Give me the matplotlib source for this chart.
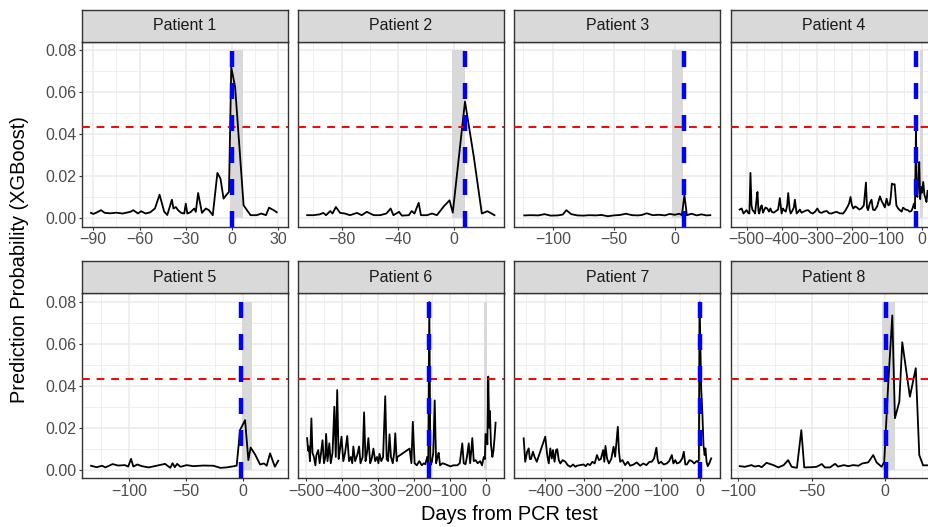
import numpy as np
import matplotlib
matplotlib.use("Agg")
import matplotlib.pyplot as plt

plt.rcParams["font.family"] = ["Liberation Sans", "DejaVu Sans"]

# daily XGBoost prediction probability per patient, days relative to PCR test
p1_days = [-91.5, -90, -88, -85, -82.5, -79, -75, -71, -66, -64, -61, -59, -56, -53,
           -50, -47, -44, -42, -39, -38, -36.5, -35, -33, -31, -30, -29, -27, -24.5,
           -23.5, -22, -19.5, -17, -15, -12.5, -9.5, -7.5, -5.5, -3, -2, -0.5, 2, 7.5,
           12, 16, 19, 22, 24, 27, 29]
p1_prob = [.0024, .0019, .0025, .0037, .0024, .0022, .0025, .0021, .0029, .0037, .0021,
           .0032, .0021, .0027, .0045, .0111, .0030, .0014, .0087, .0045, .0052, .0037,
           .0024, .0021, .0068, .0021, .0027, .0045, .0029, .0119, .0024, .0045, .0037,
           .0013, .0215, .0188, .0092, .0116, .0124, .0720, .0625, .0060, .0013, .0013,
           .0021, .0013, .0049, .0037, .0027]

p2_days = [-104.5, -100, -95.5, -93, -91, -88, -86.4, -84, -81, -77.6, -74, -69, -65.6,
           -62, -57, -52.5, -48, -45, -43, -39, -37, -32, -30, -28, -25, -23.4, -19,
           -15.5, -12, -7, -3, -0.7, 8, 14.3, 20, 24, 29]
p2_prob = [.0013, .0013, .0017, .0024, .0013, .0033, .0021, .0052, .0024, .0021, .0013,
           .0024, .0013, .0029, .0013, .0013, .0021, .0045, .0013, .0029, .0011, .0013,
           .0033, .0021, .0072, .0013, .0013, .0021, .0013, .0056, .0084, .0025, .0556,
           .0291, .0021, .0032, .0013]

p3_days = [-123.6, -118, -112, -107, -102, -96, -92, -89, -85, -80, -75, -70, -65, -60,
           -55, -50, -45, -40, -35, -30, -27, -23, -18, -13, -8, -4, 0, 4, 6, 8, 10, 14,
           18, 22, 26, 29.3]
p3_prob = [.0012, .0013, .0012, .0018, .0011, .0012, .0016, .0037, .0018, .0012, .0011,
           .0013, .0012, .0014, .0008, .0012, .0014, .0020, .0013, .0012, .0014, .0022,
           .0013, .0015, .0012, .0019, .0015, .0020, .0013, .0110, .0013, .0020, .0012,
           .0017, .0012, .0013]

p4_days = [-520, -514, -509, -504, -500, -496, -492, -489, -486, -483, -479, -476, -472,
           -469, -466, -464, -460, -457, -453, -450, -446, -441, -436, -432, -428, -422,
           -416, -410, -405, -400, -396, -393, -388, -384, -381, -377, -374, -369, -365,
           -362, -357, -352, -348, -343, -338, -331, -324, -317, -311, -304, -298, -292,
           -286, -279, -271, -264, -257, -250, -243, -234, -224, -218, -212, -207, -203,
           -199, -195, -190, -184, -178, -172, -165, -159, -156, -153, -148, -143, -139,
           -134, -127, -119, -114, -110, -105, -100, -95, -91, -88, -85, -81, -77, -72,
           -67, -62, -57, -53, -46, -39, -34, -29, -25, -22, -19, -16, -14, -12, -9, -6.7,
           -4, -2, 1, 4.7, 8, 11, 14, 17, 21, 28, 35]
p4_prob = [.0040, .0045, .0021, .0030, .0037, .0025, .0021, .0215, .0060, .0037, .0030,
           .0021, .0080, .0124, .0030, .0021, .0050, .0060, .0025, .0037, .0050, .0045,
           .0030, .0045, .0029, .0025, .0033, .0040, .0095, .0021, .0045, .0037, .0030,
           .0060, .0119, .0040, .0021, .0035, .0050, .0087, .0021, .0030, .0040, .0025,
           .0029, .0035, .0037, .0025, .0021, .0030, .0045, .0028, .0024, .0030, .0033,
           .0022, .0021, .0026, .0029, .0022, .0021, .0035, .0052, .0070, .0100, .0060,
           .0045, .0055, .0049, .0040, .0045, .0060, .0169, .0050, .0037, .0070, .0087,
           .0040, .0037, .0055, .0103, .0080, .0068, .0050, .0092, .0060, .0065, .0100,
           .0164, .0160, .0161, .0060, .0045, .0037, .0030, .0049, .0040, .0037, .0030,
           .0033, .0050, .0068, .0045, .0426, .0120, .0100, .0180, .0267, .0090, .0148,
           .0120, .0172, .0110, .0095, .0076, .0130, .0100, .0090, .0060]

p5_days = [-133.7, -128.7, -124, -121, -114.7, -110, -104, -101, -98.5, -96.5, -93, -89,
           -83, -76, -68.6, -64, -62, -60, -58, -55, -49.6, -43.7, -35, -26, -20, -14.4,
           -5.6, -2.6, 1.8, 4.7, 6.7, 10.6, 15, 18.5, 20.8, 23.8, 28, 31]
p5_prob = [.0018, .0011, .0018, .0010, .0026, .0019, .0021, .0014, .0051, .0014, .0024,
           .0016, .0010, .0018, .0027, .0008, .0030, .0011, .0027, .0013, .0021, .0016,
           .0019, .0018, .0008, .0010, .0018, .0189, .0236, .0045, .0105, .0072, .0024,
           .0029, .0018, .0077, .0013, .0042]

p6_days = [-498, -495, -493, -490, -486, -483, -479, -475, -472, -467, -463, -459, -455,
           -451, -447, -445, -441, -436, -432, -427, -422, -418, -414, -410, -406, -402,
           -397, -392, -386, -381, -376, -372, -369, -364, -358, -353, -349, -343, -339,
           -335, -331, -327, -322, -318, -313, -308, -303, -299, -296, -291, -286, -280,
           -276, -272, -268, -264, -259, -255, -252, -248, -246, -212, -207, -203, -198,
           -192, -185, -178, -172, -168, -163, -160, -157, -154, -150, -146, -142, -138,
           -134, -131, -127, -120, -112, -98, -90, -79, -72, -65, -61, -56, -52, -47, -43,
           -37, -33, -28, -22, -15, -10, -5, -2, 0, 3, 5, 7.5, 10, 12, 15, 19, 22, 25, 28]
p6_prob = [.0150, .0090, .0110, .0040, .0244, .0080, .0060, .0020, .0070, .0093, .0030,
           .0080, .0140, .0030, .0060, .0170, .0040, .0125, .0030, .0080, .0300, .0060,
           .0380, .0050, .0100, .0157, .0040, .0080, .0160, .0040, .0060, .0030, .0110,
           .0040, .0070, .0110, .0030, .0060, .0273, .0040, .0080, .0150, .0030, .0050,
           .0100, .0040, .0060, .0030, .0075, .0040, .0060, .0350, .0050, .0040, .0168,
           .0060, .0030, .0080, .0173, .0040, .0060, .0100, .0030, .0228, .0030, .0020,
           .0040, .0020, .0030, .0025, .0060, .0030, .0800, .0020, .0035, .0080, .0330,
           .0030, .0060, .0080, .0020, .0030, .0025, .0015, .0020, .0020, .0030, .0125,
           .0030, .0025, .0060, .0125, .0030, .0150, .0040, .0045, .0030, .0040, .0020,
           .0060, .0050, .0170, .0160, .0120, .0444, .0200, .0280, .0120, .0060, .0090,
           .0150, .0224]

p7_days = [-456, -452, -447, -443, -440, -437, -432, -428, -422, -400, -395, -391, -387,
           -383, -380, -376, -372, -369, -365, -361, -355, -348, -342, -335, -328, -322,
           -318, -310, -301, -295, -290, -284, -278, -272, -266, -261, -256, -250, -247,
           -244, -240, -235, -229, -223, -219, -216, -212, -209, -206, -200, -193, -186,
           -180, -171, -163, -154, -146, -138, -130, -124, -118, -112, -109, -106, -100,
           -93, -85, -79, -72, -68, -63, -59, -52, -45, -41, -37, -33, -26, -20, -14, -8,
           -5, -2, 0, 4, 7, 10, 13, 15, 18, 21, 25, 30]
p7_prob = [.0149, .0037, .0085, .0101, .0050, .0050, .0085, .0061, .0037, .0157, .0069,
           .0029, .0101, .0053, .0093, .0037, .0093, .0097, .0045, .0029, .0045, .0037,
           .0021, .0013, .0024, .0013, .0018, .0021, .0024, .0016, .0027, .0021, .0037,
           .0029, .0069, .0045, .0050, .0093, .0037, .0113, .0053, .0029, .0050, .0109,
           .0061, .0121, .0204, .0085, .0037, .0045, .0021, .0037, .0018, .0024, .0034,
           .0018, .0029, .0021, .0037, .0037, .0053, .0104, .0050, .0029, .0037, .0024,
           .0029, .0040, .0069, .0029, .0045, .0029, .0034, .0053, .0085, .0024, .0024,
           .0045, .0040, .0029, .0040, .0037, .0045, .0799, .0388, .0276, .0117, .0069,
           .0101, .0037, .0016, .0029, .0053]

p8_days = [-99, -95.5, -91, -88.6, -86, -84, -80.7, -76, -72.7, -69, -66, -63.6, -60, -57,
           -55, -50, -46.6, -43, -41, -37.5, -34, -32, -28, -25, -21.6, -18, -15.5, -11.4,
           -8, -5.7, -2.3, -0.5, 2.3, 5, 6.8, 9.8, 11.8, 17, 21, 23.4, 26, 28.4, 32]
p8_prob = [.0016, .0013, .0021, .0014, .0018, .0011, .0032, .0021, .0010, .0021, .0045,
           .0013, .0008, .0188, .0010, .0011, .0013, .0026, .0010, .0010, .0027, .0014,
           .0021, .0016, .0021, .0018, .0029, .0034, .0069, .0034, .0013, .0036, .0420,
           .0736, .0245, .0324, .0608, .0348, .0484, .0069, .0020, .0020, .0020]

patient_names = [f"Patient {i}" for i in range(1, 9)]
patient_days = [p1_days, p2_days, p3_days, p4_days, p5_days, p6_days, p7_days, p8_days]
patient_prob = [p1_prob, p2_prob, p3_prob, p4_prob, p5_prob, p6_prob, p7_prob, p8_prob]
# day of the positive PCR test (blue) and symptom window (grey)
pcr_day = [0, 8, 8, -16, -1.5, -157, 0, 1]
symptom_window = [(-1, 7), (-1, 8), (-2, 7), (-5, 3), (-1, 8), (-4, 4), (-3, 3), (-2, 7)]
threshold = 0.0433

# free x scales of the facets
x_limits = [(-97.5, 36.1), (-111, 35.8), (-131.8, 37.5), (-545.7, 42.9),
            (-141.9, 39.3), (-523.4, 51.4), (-480.3, 53.6), (-105.2, 35.2)]
x_major = [[-90, -60, -30, 0, 30], [-80, -40, 0], [-100, -50, 0],
           [-500, -400, -300, -200, -100, 0], [-100, -50, 0],
           [-500, -400, -300, -200, -100, 0], [-400, -300, -200, -100, 0],
           [-100, -50, 0]]

W, H = 929, 527
fig = plt.figure(figsize=(W / 100, H / 100), dpi=100)
fig.patch.set_facecolor("white")

col_left = [81.7, 298.0, 514.3, 730.6]
row_top = [41.7, 293.3]
pw, ph, sh = 206, 185, 32

for i in range(8):
    r, c = divmod(i, 4)
    left = col_left[c] / W
    bottom = 1 - (row_top[r] + ph) / H
    ax = fig.add_axes([left, bottom, pw / W, ph / H])
    strip = fig.add_axes([left, 1 - row_top[r] / H, pw / W, sh / H])

    # facet strip
    strip.set_facecolor("#D9D9D9")
    strip.set_xticks([])
    strip.set_yticks([])
    for s in strip.spines.values():
        s.set_color("#333333")
        s.set_linewidth(1.0)
    strip.text(0.5, 0.5, patient_names[i], ha="center", va="center",
               fontsize=11.5, color="#1A1A1A", transform=strip.transAxes)

    # grid
    xmaj = x_major[i]
    step = xmaj[1] - xmaj[0]
    lo, hi = x_limits[i]
    xmin = [v for v in np.arange(xmaj[0] - step / 2, hi, step) if lo < v < hi]
    ax.set_xticks(xmaj)
    ax.set_xticks(xmin, minor=True)
    ax.set_yticks([0, 0.02, 0.04, 0.06, 0.08])
    ax.set_yticks([0.01, 0.03, 0.05, 0.07], minor=True)
    ax.grid(which="major", color="#EBEBEB", linewidth=1.1, zorder=0)
    ax.grid(which="minor", color="#EBEBEB", linewidth=0.55, zorder=0)
    ax.set_axisbelow(True)

    w0, w1 = symptom_window[i]
    ax.fill_between([w0, w1], 0, 0.08, color="#D9D9D9", linewidth=0, zorder=1)
    ax.plot(patient_days[i], patient_prob[i], color="black", linewidth=1.3, zorder=3)
    ax.axhline(threshold, color="#FF0000", linewidth=1.4, dashes=(4, 3.5), zorder=4)
    ax.axvline(pcr_day[i], color="#0000FF", linewidth=3.2, dashes=(3.6, 3.6), zorder=5)

    ax.set_xlim(lo, hi)
    ax.set_ylim(-0.0042, 0.0842)
    for s in ax.spines.values():
        s.set_color("#333333")
        s.set_linewidth(1.0)

    ax.tick_params(which="major", axis="x", length=2.5, width=0.8, color="#333333",
                   labelsize=11.5, labelcolor="#4D4D4D", pad=1.5)
    ax.tick_params(which="minor", length=0)
    if c == 0:
        ax.tick_params(which="major", axis="y", length=2.5, width=0.8, color="#333333",
                       labelsize=11.5, labelcolor="#4D4D4D", pad=1.5)
        ax.set_yticklabels(["0.00", "0.02", "0.04", "0.06", "0.08"])
    else:
        ax.tick_params(which="major", axis="y", length=0, labelleft=False)

fig.text(509.5 / W, 1 - 514 / H, "Days from PCR test", ha="center", va="center",
         fontsize=14.4, color="black")
fig.text(20 / W, 1 - 259.7 / H, "Prediction Probability (XGBoost)", ha="center",
         va="center", rotation=90, fontsize=14.4, color="black")

fig.savefig("out.png", dpi=100)
